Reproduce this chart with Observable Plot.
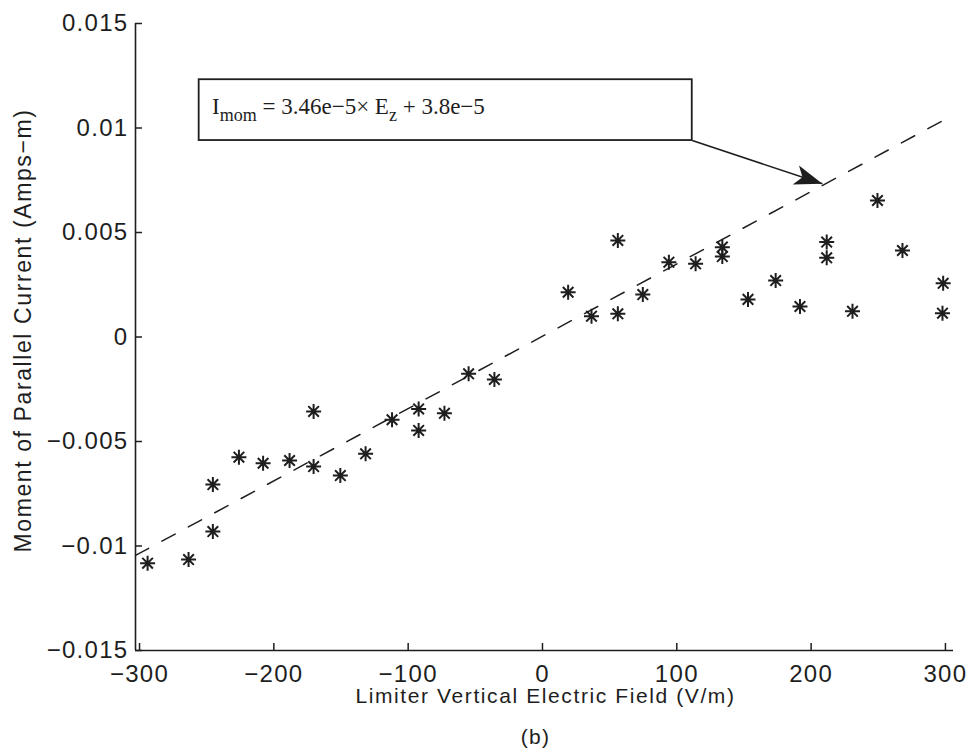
<!DOCTYPE html>
<html><head><meta charset="utf-8">
<script src="https://cdn.jsdelivr.net/npm/d3@7"></script>
<script src="https://cdn.jsdelivr.net/npm/@observablehq/plot@0.6"></script>
<style>html,body{margin:0;padding:0;background:#fff} svg{display:block}</style>
</head><body><div id="chart"></div>
<script>
// ---- data ----
const fieldE = [-294, -263.5, -245.4, -245.4, -226, -208, -188.3, -170.4, -170.4, -150.5, -131.7, -112, -92.2, -92.2, -73, -55, -35.8,
  19.1, 36.5, 56.1, 56.1, 74.7, 94.1, 114, 133.9, 133.9, 153, 173.6, 191.7, 211.6, 211.6, 230.8, 249.4, 268, 298.3, 297.8];
const moment = [-0.01082, -0.01065, -0.00706, -0.00931, -0.00575, -0.00604, -0.00591, -0.00356, -0.0062, -0.00663, -0.00559, -0.00396, -0.00344, -0.00447, -0.00365, -0.00176, -0.00203,
  0.00214, 0.000995, 0.00462, 0.00111, 0.00203, 0.00358, 0.0035, 0.0043, 0.00385, 0.0018, 0.0027, 0.00146, 0.00454, 0.00379, 0.00123, 0.00653, 0.00414, 0.00257, 0.00114];
const fitE = [-303, 300];
const fitI = [-0.01045, 0.01042];
const xTicks = [-300, -200, -100, 0, 100, 200, 300];
const yTicks = [-0.015, -0.01, -0.005, 0, 0.005, 0.01, 0.015];
const xDomain = [-303, 306];
const yDomain = [-0.015, 0.015];
const boxE = [-255.6, 111.5];
const boxI = [0.0094, 0.01231];
const eqE = [-246];
const eqI = [0.011];
const eqParts = ["I", "mom", " = 3.46e−5× E", "z", " + 3.8e−5"];
const arrowE = [111.5, 208.4];
const arrowI = [0.0094, 0.00733];
const xLabel = "Limiter Vertical Electric Field (V/m)";
const yLabel = "Moment of Parallel Current (Amps−m)";
const caption = "(b)";

// ---- layout ----
const W = 973, H = 755, mL = 135, mR = 20, mT = 23, mB = 105;
const ink = "#1e1e1e";
const fmt = d => (d < 0 ? "−" : "") + Math.abs(d);

const pts = fieldE.map((e, i) => ({e, m: moment[i]}));
const fit = fitE.map((e, i) => ({e, m: fitI[i]}));

// arrow head orientation from the scales
const sx = Plot.scale({x: {domain: xDomain, range: [mL, W - mR]}});
const sy = Plot.scale({y: {domain: yDomain, range: [H - mB, mT]}});
const angle = Math.atan2(sy.apply(arrowI[1]) - sy.apply(arrowI[0]), sx.apply(arrowE[1]) - sx.apply(arrowE[0])) * 180 / Math.PI;

const star8 = {draw(ctx, size) {
  const r = Math.sqrt(size / Math.PI), d = r * Math.SQRT1_2;
  ctx.moveTo(-r, 0); ctx.lineTo(r, 0);
  ctx.moveTo(0, -r); ctx.lineTo(0, r);
  ctx.moveTo(-d, -d); ctx.lineTo(d, d);
  ctx.moveTo(-d, d); ctx.lineTo(d, -d);
}};
const head = {draw(ctx) {
  ctx.moveTo(0, 0); ctx.lineTo(-28, -10); ctx.lineTo(-21, 0); ctx.lineTo(-28, 10); ctx.closePath();
}};

const plot = Plot.plot({
  width: W, height: H,
  marginLeft: mL, marginRight: mR, marginTop: mT, marginBottom: mB,
  style: {fontFamily: "'Liberation Sans', Arial, sans-serif", letterSpacing: "1.3px", color: ink, background: "#fff"},
  x: {domain: xDomain},
  y: {domain: yDomain},
  marks: [
    Plot.ruleX([xDomain[0]], {stroke: ink, strokeWidth: 1.6}),
    Plot.ruleY([yDomain[0]], {stroke: ink, strokeWidth: 1.6}),
    // inward ticks
    Plot.ruleX(xTicks, {x: d => d, y1: yDomain[0], y2: yDomain[0], insetTop: -7, stroke: ink, strokeWidth: 1.5}),
    Plot.ruleY(yTicks, {y: d => d, x1: xDomain[0], x2: xDomain[0], insetRight: -7, stroke: ink, strokeWidth: 1.5}),
    Plot.axisX({ticks: xTicks, tickFormat: fmt, tickSize: 0, tickPadding: 14, fontSize: 24, label: null}),
    Plot.axisY({ticks: yTicks, tickFormat: fmt, tickSize: 0, tickPadding: 7, fontSize: 24, label: null}),
    Plot.line(fit, {x: "e", y: "m", stroke: ink, strokeWidth: 1.5, strokeDasharray: "15,15"}),
    Plot.dot(pts, {x: "e", y: "m", symbol: star8, r: 7.5, fill: "none", stroke: ink, strokeWidth: 2}),
    Plot.rect([0], {x1: boxE[0], x2: boxE[1], y1: boxI[0], y2: boxI[1], fill: "#fff", stroke: ink, strokeWidth: 1.8}),
    Plot.text([eqParts.join("")], {x: eqE, y: eqI, text: d => d, textAnchor: "start", lineAnchor: "middle", fontSize: 23,
      fontFamily: "'Liberation Serif', 'Times New Roman', serif", fill: ink}),
    Plot.link([0], {x1: arrowE[0], y1: arrowI[0], x2: arrowE[1], y2: arrowI[1], stroke: ink, strokeWidth: 1.6}),
    Plot.dot([0], {x: [arrowE[1]], y: [arrowI[1]], symbol: head, r: 5, rotate: angle, fill: ink, stroke: "none"}),
    Plot.text([xLabel], {frameAnchor: "bottom", textAnchor: "middle", lineAnchor: "middle", dx: 1, dy: 46, fontSize: 21, fill: ink, style: ""}),
    Plot.text([caption], {frameAnchor: "bottom", textAnchor: "middle", lineAnchor: "middle", dx: -9, dy: 87, fontSize: 21, fill: ink}),
    Plot.text([yLabel], {frameAnchor: "left", textAnchor: "middle", lineAnchor: "middle", rotate: -90, dx: -111.5, dy: -6.5, fontSize: 23, fill: ink})
  ]
});

// equation with subscripts as tspans
const eqString = eqParts.join("");
const eq = Array.from(plot.querySelectorAll("text")).find(t => t.textContent === eqString);
if (eq) {
  eq.textContent = "";
  eq.style.letterSpacing = "0px";
  eq.setAttribute("xml:space", "preserve");
  const sizes = [23, 18, 23, 18, 23];
  const shifts = [0, 7, -7, 7, -7];
  eqParts.forEach((p, i) => {
    const t = document.createElementNS("http://www.w3.org/2000/svg", "tspan");
    t.setAttribute("font-size", sizes[i]);
    if (shifts[i]) t.setAttribute("dy", shifts[i]);
    t.style.whiteSpace = "pre";
    t.textContent = p;
    eq.appendChild(t);
  });
}
// labels use a slightly wider spacing, as in the reference
Array.from(plot.querySelectorAll("text")).forEach(t => {
  if (t.textContent === xLabel || t.textContent === yLabel) t.style.letterSpacing = "1.6px";
});
document.getElementById("chart").appendChild(plot);
</script>
</body></html>
